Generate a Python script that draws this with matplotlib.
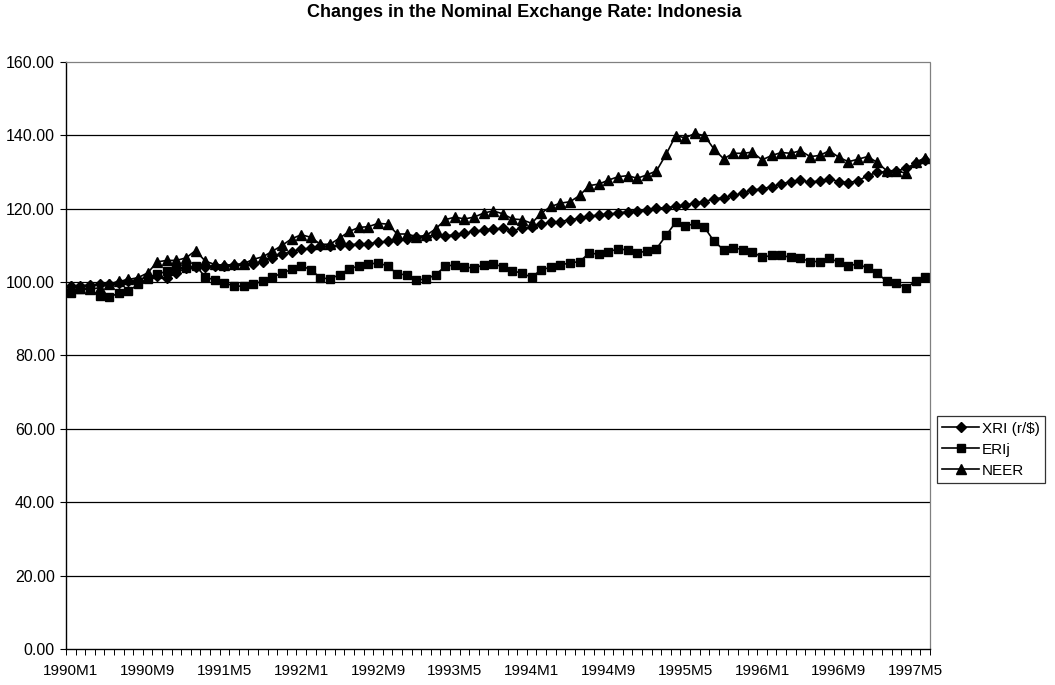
import numpy as np
import matplotlib
matplotlib.use("Agg")
import matplotlib.pyplot as plt

plt.rcParams["font.family"] = ["Liberation Sans", "DejaVu Sans"]

# monthly categories 1990M1 .. 1997M6
months = [f"{y}M{m}" for y in range(1990, 1998) for m in range(1, 13)][:90]

xri = [99.0, 99.0, 99.2, 99.4, 99.6, 99.8, 100.2, 100.6, 101.5, 101.6,
       101.0, 102.5, 103.9, 104.0, 104.2, 104.4, 104.5, 104.6, 104.8, 105.0,
       105.6, 106.6, 107.6, 108.3, 109.0, 109.2, 109.7, 109.7, 110.0, 110.2,
       110.3, 110.5, 110.8, 111.1, 111.5, 111.8, 112.2, 112.4, 112.9, 112.6,
       112.9, 113.3, 113.8, 114.2, 114.5, 114.6, 114.0, 114.7, 114.9, 115.8,
       116.3, 116.5, 117.0, 117.4, 117.9, 118.3, 118.5, 118.8, 119.2, 119.4,
       119.7, 120.1, 120.3, 120.6, 121.0, 121.5, 121.9, 122.7, 123.0, 123.6,
       124.2, 125.1, 125.4, 126.0, 126.7, 127.4, 127.7, 127.2, 127.6, 128.1,
       127.4, 127.1, 127.6, 129.0, 129.9, 130.1, 130.3, 131.0, 132.4, 133.3]

erij = [97.1, 98.0, 98.0, 96.2, 95.8, 97.1, 97.5, 99.4, 100.7, 102.1,
        103.0, 104.1, 103.9, 104.5, 101.4, 100.5, 99.8, 98.9, 98.9, 99.4,
        100.3, 101.4, 102.4, 103.5, 104.4, 103.4, 101.1, 100.9, 102.0, 103.6,
        104.4, 104.9, 105.2, 104.4, 102.2, 102.0, 100.6, 100.8, 102.0, 104.3,
        104.7, 104.1, 103.8, 104.7, 104.9, 104.2, 103.1, 102.4, 101.3, 103.4,
        104.0, 104.7, 105.2, 105.6, 107.9, 107.6, 108.3, 109.0, 108.8, 107.9,
        108.5, 109.1, 112.7, 116.3, 115.4, 115.8, 114.9, 111.1, 108.8, 109.4,
        108.8, 108.3, 106.7, 107.3, 107.3, 106.7, 106.5, 105.6, 105.6, 106.5,
        105.4, 104.5, 104.9, 103.8, 102.4, 100.2, 99.7, 98.5, 100.2, 101.5]

neer = [99.0, 98.5, 98.0, 98.5, 99.5, 100.2, 100.7, 101.2, 102.5, 105.5,
        105.9, 105.9, 106.6, 108.6, 105.7, 104.8, 104.6, 104.8, 105.0, 106.2,
        106.9, 108.4, 110.0, 111.8, 112.9, 112.2, 110.3, 110.3, 112.0, 113.8,
        114.9, 115.1, 116.0, 115.8, 113.1, 113.1, 112.4, 112.7, 114.5, 117.0,
        117.7, 117.2, 117.7, 118.8, 119.4, 118.6, 117.2, 117.0, 116.0, 118.8,
        120.6, 121.5, 121.9, 123.6, 126.3, 126.7, 127.8, 128.7, 129.0, 128.3,
        129.2, 130.3, 134.8, 139.9, 139.3, 140.5, 139.9, 136.2, 133.6, 135.1,
        135.1, 135.4, 133.3, 134.5, 135.3, 135.1, 135.8, 134.2, 134.5, 135.8,
        134.0, 132.8, 133.5, 134.2, 132.6, 130.3, 130.4, 129.6, 132.8, 133.7]

label_every = 8
yticks = [0, 20, 40, 60, 80, 100, 120, 140, 160]

fig = plt.figure(figsize=(10.55, 6.85), dpi=100)
ax = fig.add_axes([0.0626, 0.0526, 0.819, 0.857])

x = np.arange(len(months))
ax.plot(x, xri, color="black", lw=1.2, marker="D", ms=5.5, label="XRI (r/\\$)")
ax.plot(x, erij, color="black", lw=1.2, marker="s", ms=5.5, label="ERIj")
ax.plot(x, neer, color="black", lw=1.2, marker="^", ms=7.5, label="NEER")

ax.set_ylim(0, 160)
ax.set_xlim(-0.5, len(months) - 0.5)
ax.set_yticks(yticks)
ax.set_yticklabels([f"{v:.2f}" for v in yticks], fontsize=11.5)
for v in yticks[1:-1]:
    ax.axhline(v, color="black", lw=0.9, zorder=0)

ax.set_xticks(x[::label_every])
ax.set_xticklabels(months[::label_every], fontsize=11)
ax.set_xticks(np.arange(-0.5, len(months)), minor=True)
ax.tick_params(axis="x", which="major", length=0, pad=11)
ax.tick_params(axis="x", which="minor", length=4, direction="out", width=0.7)
ax.tick_params(axis="y", length=4, direction="out", width=0.8, pad=4)

ax.spines["left"].set_linewidth(1.0)
ax.spines["bottom"].set_linewidth(1.0)
for s in ["top", "right"]:
    ax.spines[s].set_linestyle((0, (1, 1)))
    ax.spines[s].set_color("gray")
    ax.spines[s].set_linewidth(0.9)

fig.suptitle("Changes in the Nominal Exchange Rate: Indonesia",
             x=0.497, y=0.982, va="center", fontsize=13, fontweight="bold")

leg = fig.legend(loc="upper left", bbox_to_anchor=(0.888, 0.392),
                 bbox_transform=fig.transFigure, fontsize=11, frameon=True,
                 fancybox=False, edgecolor="black", handlelength=2.4,
                 borderpad=0.35, labelspacing=0.45, handletextpad=0.2,
                 borderaxespad=0)
leg.get_frame().set_linewidth(0.9)

fig.savefig("out.png", dpi=100)
